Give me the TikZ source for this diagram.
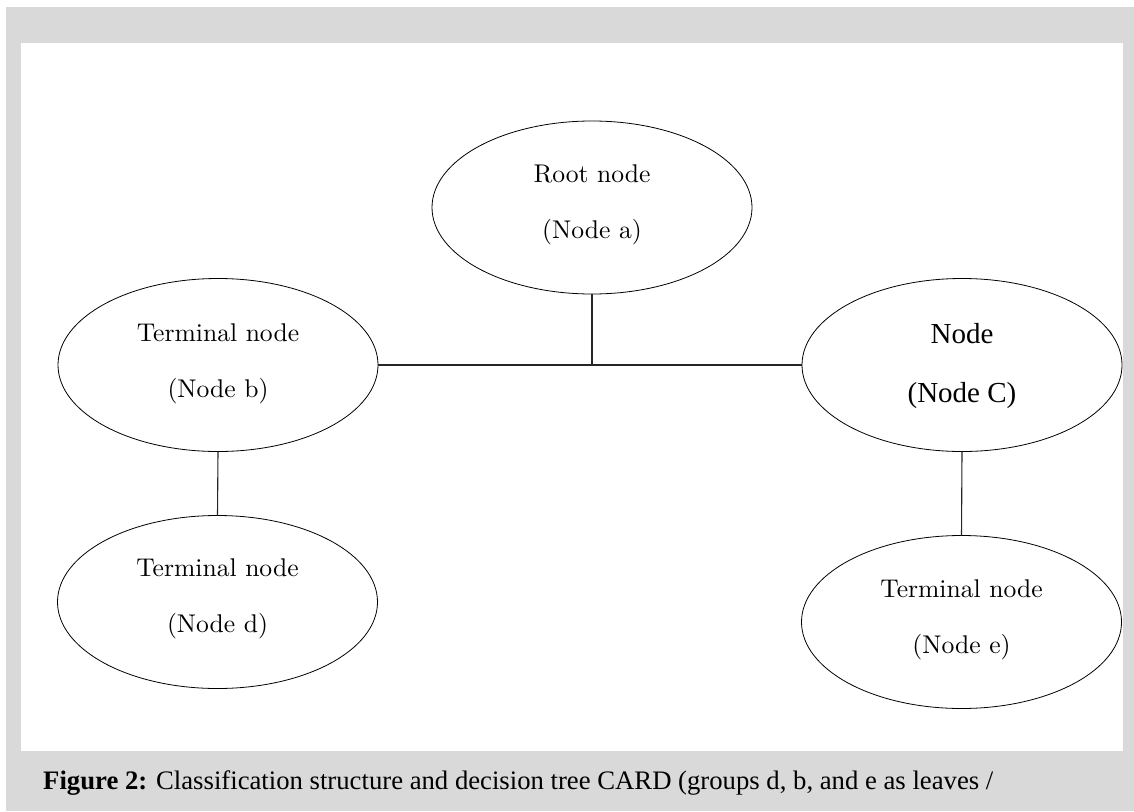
\documentclass[tikz,border=0pt]{standalone}
\usepackage{fontspec}
\usetikzlibrary{shapes.geometric}
\newfontfamily\tnr{Liberation Serif}
\newfontfamily\lmten{lmroman10-regular.otf}
\definecolor{bggray}{RGB}{217,217,217}
\begin{document}
\begin{tikzpicture}[x=1pt,y=-1pt,
  ell/.style={draw=black, line width=0.8pt, ellipse, minimum width=320pt, minimum height=173pt, inner sep=0pt, outer sep=0pt},
  lbl/.style={anchor=base, inner sep=0pt, font=\lmten\fontsize{25.6}{30}\selectfont},
  lblt/.style={anchor=base, inner sep=0pt, font=\tnr\fontsize{29}{34}\selectfont},
  conn/.style={draw=black!85, line width=1.1pt},
  captxt/.style={anchor=base west, inner sep=0pt, font=\tnr\fontsize{26.7}{32}\selectfont}]
\fill[white] (0,0) rectangle (1134,811);
\fill[bggray] (6,7) rectangle (1134,811);
\fill[white] (21,43) rectangle (1123,751);
\useasboundingbox (0,0) rectangle (1134,811);
% ellipses
\node[ell] (a) at (592,207.5) {};
\node[ell] (b) at (218,365) {};
\node[ell] (c) at (962,365) {};
\node[ell] (d) at (217.5,602) {};
\node[ell] (e) at (961.5,622) {};
% labels
\node[lbl] (a1) at (592,182) {Root node};
\node[lbl] (a2) at (592,238) {(Node a)};
\node[lbl] (b1) at (218,341) {Terminal node};
\node[lbl] (b2) at (218,397) {(Node b)};
\node[lblt] (c1) at (962,343) {Node};
\node[lblt] (c2) at (962,402) {(Node C)};
\node[lbl] (d1) at (217.5,576) {Terminal node};
\node[lbl] (d2) at (217.5,632) {(Node d)};
\node[lbl] (e1) at (961.5,597) {Terminal node};
\node[lbl] (e2) at (961.5,653) {(Node e)};
% connectors
\coordinate (j) at (a.south |- b.east);
\draw[conn] (b.east) -- (c.west);
\draw[conn] (a.south) -- (j);
\draw[conn] (b.south) -- (d.north);
\draw[conn] (c.south) -- (e.north);
% caption
\node[captxt] (cap) at (43,789) {\textbf{Figure 2:} Classification structure and decision tree CARD (groups d, b, and e as leaves /};
\end{tikzpicture}
\end{document}
